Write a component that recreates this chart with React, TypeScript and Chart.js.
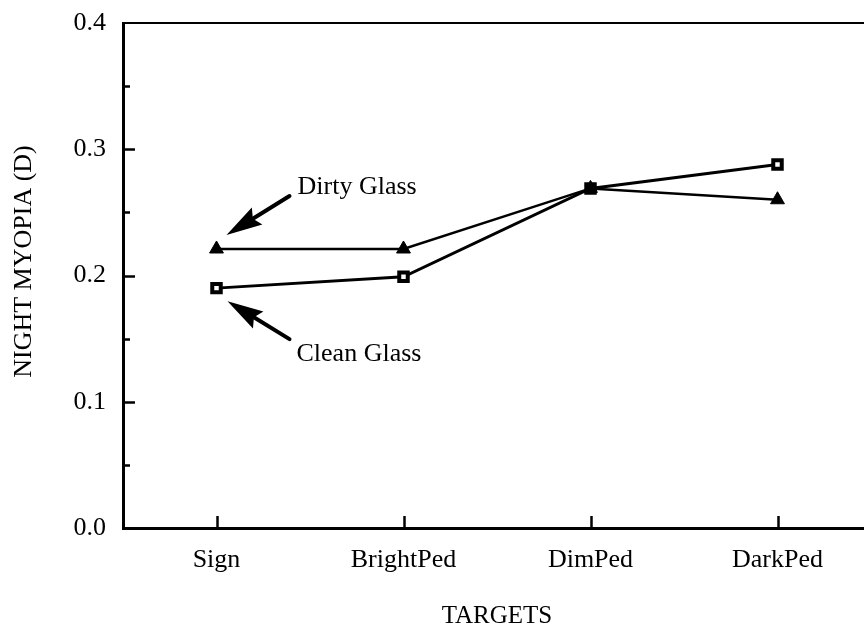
import React, { useEffect, useRef } from "react";
import { Chart, registerables } from "chart.js";

Chart.register(...registerables);

// ---- data ----
const categories = ["Sign", "BrightPed", "DimPed", "DarkPed"];
const dirtyGlass = [0.221, 0.221, 0.269, 0.26];
const cleanGlass = [0.19, 0.199, 0.269, 0.288];
const seriesNames = ["Dirty Glass", "Clean Glass"];
const yMin = 0;
const yMax = 0.4;
const yMajorStep = 0.1;
const yMinorStep = 0.05;
const xTitle = "TARGETS";
const yTitle = "NIGHT MYOPIA (D)";

const FONT = "'Liberation Serif', 'Times New Roman', Times, serif";
const FS = 26;
const CANVAS_W = 881;
const CANVAS_H = 631;

function drawArrow(ctx: CanvasRenderingContext2D, tx: number, ty: number, sx: number, sy: number) {
  const ang = Math.atan2(ty - sy, tx - sx);
  const c = Math.cos(ang);
  const s = Math.sin(ang);
  const headLen = 36;
  const headW = 10;
  const bx = tx - c * headLen;
  const by = ty - s * headLen;
  ctx.save();
  ctx.strokeStyle = "#000";
  ctx.fillStyle = "#000";
  ctx.lineWidth = 4;
  ctx.lineCap = "round";
  ctx.beginPath();
  ctx.moveTo(sx, sy);
  ctx.lineTo(bx + c * 6, by + s * 6);
  ctx.stroke();
  const px = -s;
  const py = c;
  ctx.beginPath();
  ctx.moveTo(tx, ty);
  ctx.lineTo(bx + px * headW, by + py * headW);
  ctx.lineTo(bx + c * 5, by + s * 5);
  ctx.lineTo(bx - px * headW, by - py * headW);
  ctx.closePath();
  ctx.fill();
  ctx.restore();
}

const decorPlugin = {
  id: "decor",
  afterDatasetsDraw(chart: any) {
    const ctx: CanvasRenderingContext2D = chart.ctx;
    const { left, right, top, bottom } = chart.chartArea;
    const xs = chart.scales.x;
    const ys = chart.scales.y;
    ctx.save();
    ctx.strokeStyle = "#000";
    // top frame line
    ctx.lineWidth = 2;
    ctx.beginPath();
    ctx.moveTo(left, top);
    ctx.lineTo(right, top);
    ctx.stroke();
    // y ticks (inside), major and minor
    ctx.lineWidth = 2.5;
    const nMinor = Math.round((yMax - yMin) / yMinorStep);
    const perMajor = Math.round(yMajorStep / yMinorStep);
    for (let k = 1; k < nMinor; k++) {
      const v = yMin + k * yMinorStep;
      const y = Math.round(ys.getPixelForValue(v)) + 0.5;
      const len = k % perMajor === 0 ? 12 : 7;
      ctx.beginPath();
      ctx.moveTo(left, y);
      ctx.lineTo(left + len, y);
      ctx.stroke();
    }
    // x ticks (inside)
    categories.forEach((_, i) => {
      const x = Math.round(xs.getPixelForValue(i)) + 0.5;
      ctx.beginPath();
      ctx.moveTo(x, bottom);
      ctx.lineTo(x, bottom - 12);
      ctx.stroke();
    });
    ctx.restore();

    // y-axis title (rotated, reads bottom to top)
    ctx.save();
    ctx.fillStyle = "#000";
    ctx.font = `${FS}px ${FONT}`;
    ctx.textAlign = "center";
    ctx.textBaseline = "middle";
    ctx.translate(24, (top + bottom) / 2 - 14);
    ctx.rotate(-Math.PI / 2);
    ctx.fillText(yTitle, 0, 0);
    ctx.restore();

    // annotations
    const pDirty = chart.getDatasetMeta(0).data[0];
    const pClean = chart.getDatasetMeta(1).data[0];
    ctx.save();
    ctx.fillStyle = "#000";
    ctx.font = `${FS}px ${FONT}`;
    ctx.textAlign = "left";
    ctx.textBaseline = "alphabetic";
    if (pDirty) {
      const tx = pDirty.x + 10;
      const ty = pDirty.y - 14;
      const sx = tx + 63;
      const sy = ty - 39;
      drawArrow(ctx, tx, ty, sx, sy);
      ctx.fillText(seriesNames[0], sx + 8, sy - 2);
    }
    if (pClean) {
      const tx = pClean.x + 11;
      const ty = pClean.y + 13;
      const sx = tx + 62;
      const sy = ty + 38;
      drawArrow(ctx, tx, ty, sx, sy);
      ctx.fillText(seriesNames[1], sx + 7, sy + 22);
    }
    ctx.restore();
  },
};

export default function App() {
  const ref = useRef<HTMLCanvasElement | null>(null);

  useEffect(() => {
    if (!ref.current) return;
    const chart = new Chart(ref.current, {
      type: "line",
      data: {
        labels: categories,
        datasets: [
          {
            label: seriesNames[0],
            data: dirtyGlass,
            borderColor: "#000",
            borderWidth: 2.5,
            pointStyle: "triangle",
            pointRadius: 8,
            pointBackgroundColor: "#000",
            pointBorderColor: "#000",
            pointBorderWidth: 1,
            tension: 0,
            fill: false,
          },
          {
            label: seriesNames[1],
            data: cleanGlass,
            borderColor: "#000",
            borderWidth: 3,
            pointStyle: "rect",
            pointRadius: 6,
            pointBackgroundColor: "#fff",
            pointBorderColor: "#000",
            pointBorderWidth: 4,
            tension: 0,
            fill: false,
          },
        ],
      },
      options: {
        animation: false,
        responsive: false,
        maintainAspectRatio: false,
        events: [],
        layout: { padding: { top: 23, right: 1, bottom: 0, left: 0 } },
        plugins: {
          legend: { display: false },
          tooltip: { enabled: false },
        },
        scales: {
          x: {
            type: "category",
            offset: true,
            grid: { display: false, drawTicks: false },
            border: { display: true, width: 3, color: "#000" },
            ticks: {
              padding: 0,
              font: { family: FONT, size: FS, lineHeight: 2.5 },
              color: "#000",
              maxRotation: 0,
              autoSkip: false,
            },
            title: {
              display: true,
              text: xTitle,
              font: { family: FONT, size: 25 },
              color: "#000",
              padding: { top: 4, bottom: 0 },
            },
            afterFit: (s: any) => {
              s.height = 103;
            },
          },
          y: {
            min: yMin,
            max: yMax,
            grid: { display: false, drawTicks: false },
            border: { display: true, width: 3, color: "#000" },
            ticks: {
              stepSize: yMajorStep,
              padding: 17,
              font: { family: FONT, size: FS, lineHeight: 0.4 },
              color: "#000",
              callback: (v: any) => Number(v).toFixed(1),
            },
            title: { display: false, text: yTitle },
            afterFit: (s: any) => {
              s.width = 123;
            },
          },
        },
      },
      plugins: [decorPlugin],
    });
    return () => chart.destroy();
  }, []);

  return (
    <div style={{ position: "absolute", left: 0, top: 0, width: 864, height: 631, overflow: "hidden", background: "#fff" }}>
      <canvas ref={ref} width={CANVAS_W} height={CANVAS_H} style={{ display: "block", width: CANVAS_W, height: CANVAS_H }} />
    </div>
  );
}
